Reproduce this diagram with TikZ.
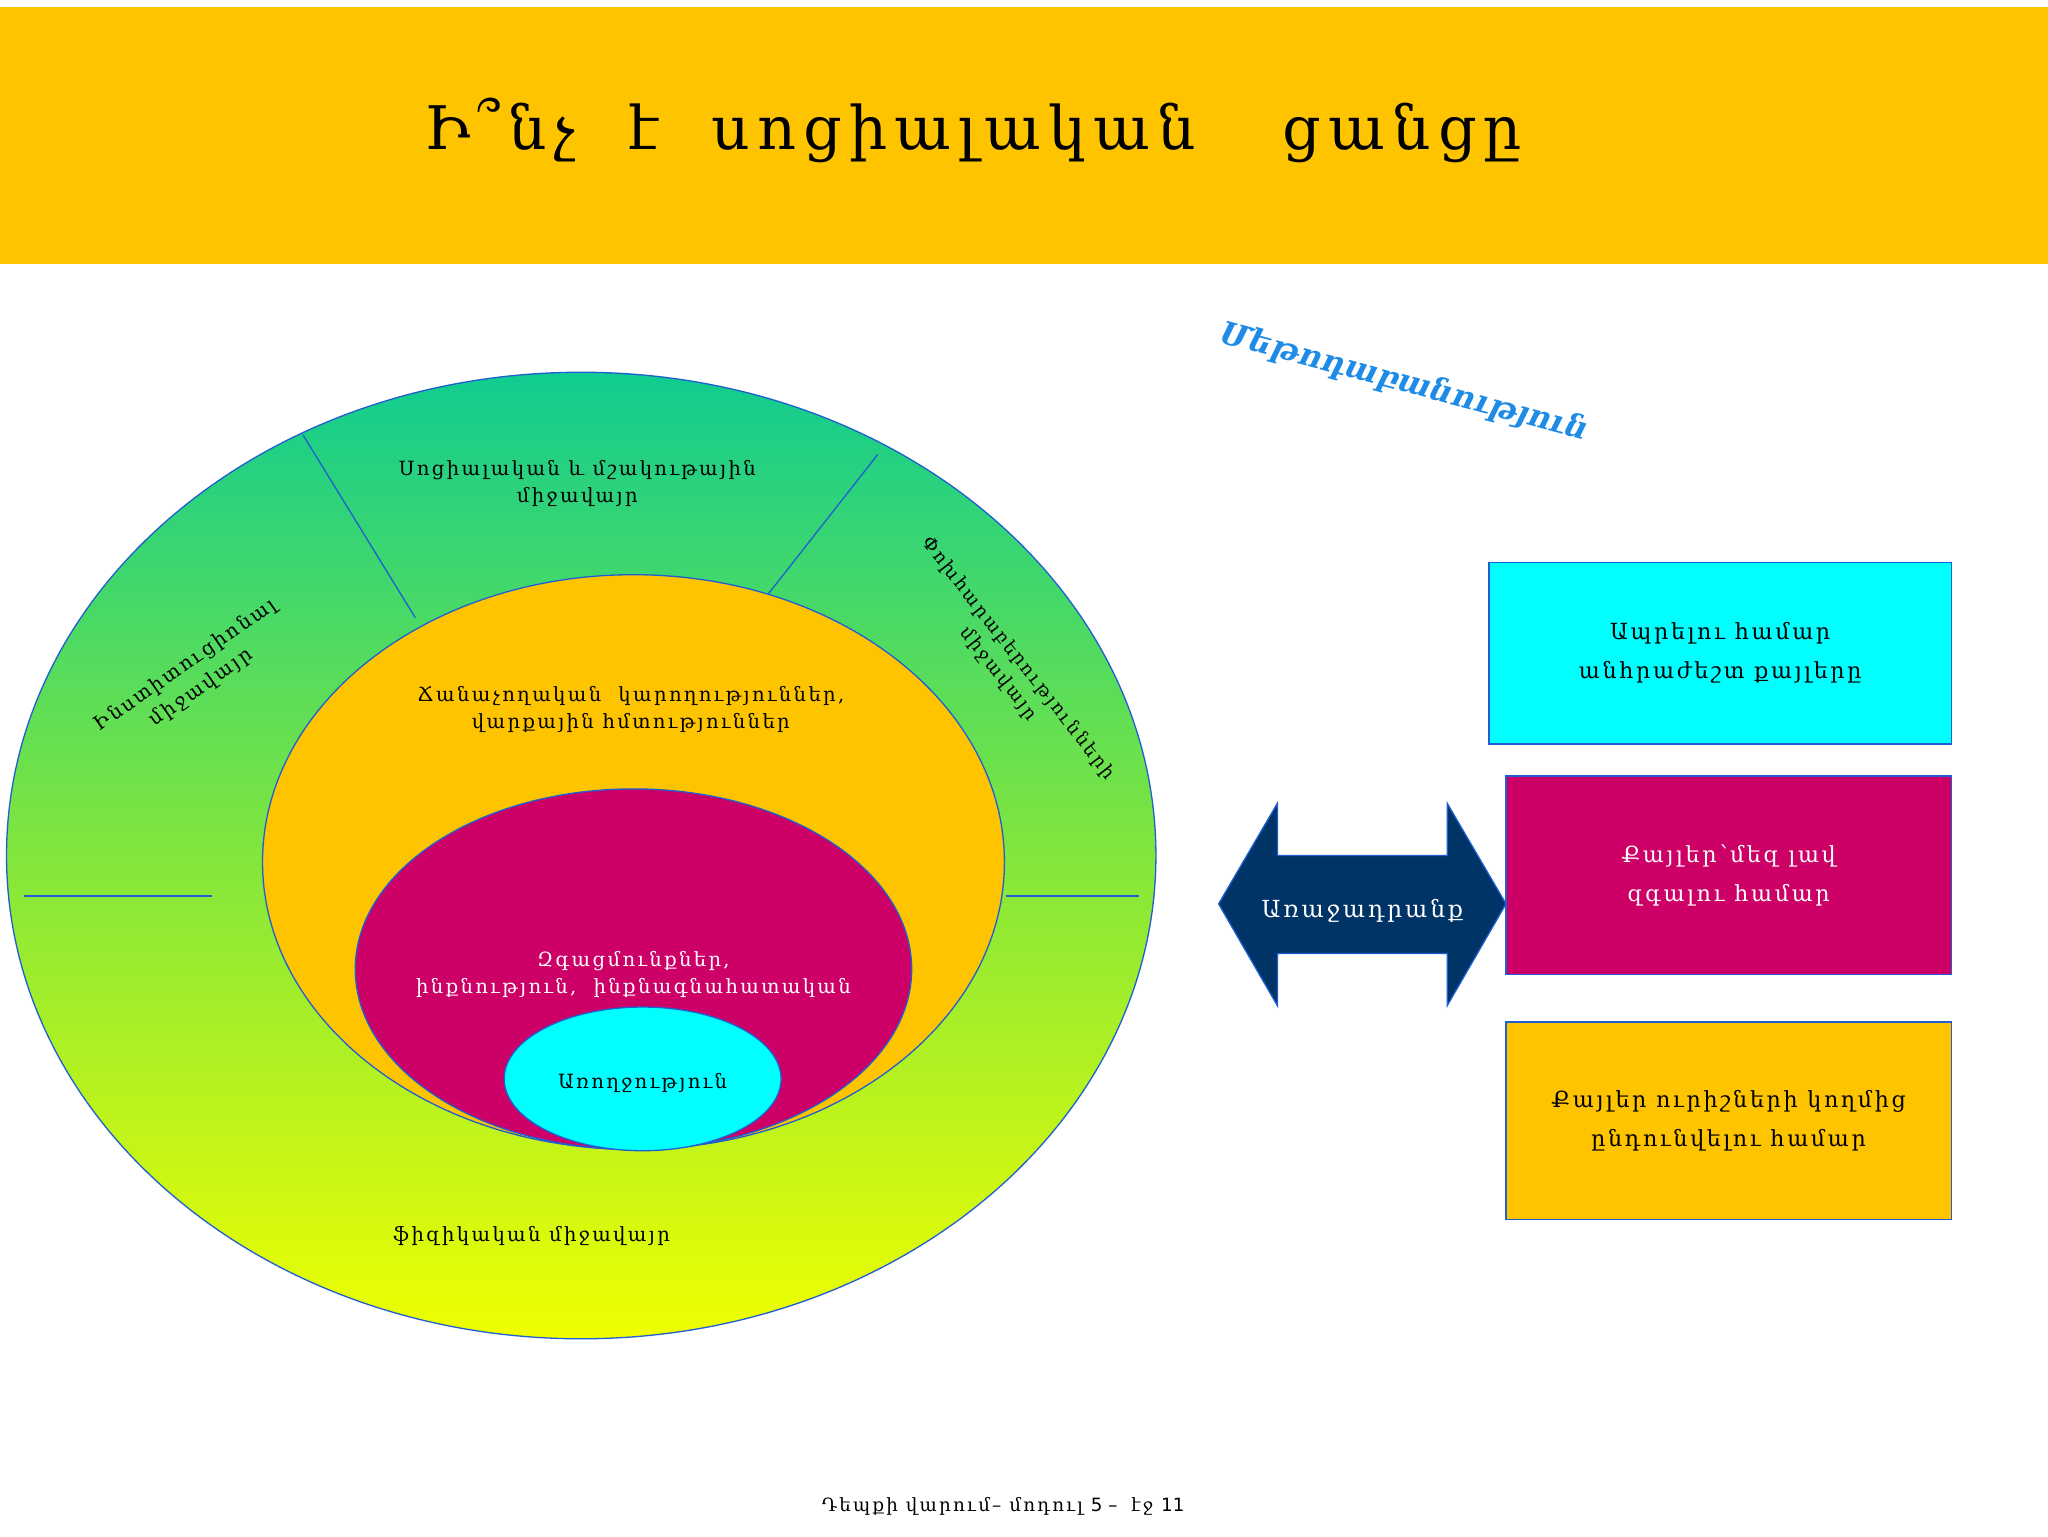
\documentclass[tikz,border=0pt]{standalone}
\usepackage{fontspec}
\setmainfont{DejaVu Serif}[LetterSpace=12]
\newfontfamily\sansf{DejaVu Sans}
\newfontfamily\tightf{DejaVu Serif}
\definecolor{gold}{HTML}{FFC400}
\definecolor{mag}{HTML}{CC0066}
\definecolor{cy}{HTML}{00FFFF}
\definecolor{navy}{HTML}{003366}
\definecolor{edge}{HTML}{1F5FD0}
\begin{document}
\begin{tikzpicture}[x=1pt,y=-1pt,
  lbl/.style={align=center,font=\fontsize{15}{21}\selectfont},
  blbl/.style={align=center,font=\fontsize{17}{30}\selectfont},
  ell/.style={draw=edge,line width=1pt},
  box/.style={draw=edge,line width=1.2pt,inner sep=0}]
\useasboundingbox (0,0) rectangle (1568,1176);
\fill[white] (0,0) rectangle (1568,1176);
\node[fill=gold,minimum width=1568pt,minimum height=197pt,inner sep=0,anchor=north west] (band) at (0,5) {};
\node[font=\fontsize{46}{52}\selectfont] (title) at (745,100) {Ի՞նչ \ է \ սոցիալական \quad ցանցը};
% ellipses
\shade[top color={rgb,255:red,16;green,204;blue,144},bottom color={rgb,255:red,240;green,255;blue,0},middle color={rgb,255:red,130;green,230;blue,60}] (445,655) ellipse [x radius=440,y radius=370];
\draw[ell] (445,655) ellipse [x radius=440,y radius=370];
\coordinate (l1a) at (232,333); \coordinate (l1b) at (318,473);
\coordinate (l2a) at (672,348); \coordinate (l2b) at (588,455);
\coordinate (l3a) at (18,686);  \coordinate (l3b) at (162,686);
\coordinate (l4a) at (770,686); \coordinate (l4b) at (872,686);
\draw[ell] (l1a) -- (l1b);
\draw[ell] (l2a) -- (l2b);
\draw[ell] (l3a) -- (l3b);
\draw[ell] (l4a) -- (l4b);
\filldraw[ell,fill=gold] (485,660) ellipse [x radius=284,y radius=220];
\filldraw[ell,fill=mag] (485,742) ellipse [x radius=213,y radius=138];
\filldraw[ell,fill=cy] (492,826) ellipse [x radius=106,y radius=55];
% ring texts
\node[lbl] (t1) at (442,370) {Սոցիալական և մշակութային\\միջավայր};
\node[lbl,rotate=35] (t2) at (148,518) {Ինստիտուցիոնալ\\միջավայր};
\node[lbl,rotate=-52,font=\fontsize{14}{19}\selectfont] (t3) at (772,510) {Փոխհարաբերությունների\\միջավայր};
\node[lbl] (t4) at (483,543) {Ճանաչողական \ կարողություններ,\\վարքային հմտություններ};
\node[lbl,text=white] (t5) at (485,746) {Զգացմունքներ,\\ինքնություն, \ ինքնագնահատական};
\node[lbl] (t6) at (492,829) {Առողջություն};
\node[lbl] (t7) at (407,946) {ֆիզիկական միջավայր};
\node[font=\tightf\fontsize{24}{28}\selectfont\bfseries\itshape,text={rgb,255:red,30;green,140;blue,230},rotate=-15] (met) at (1075,293) {Մեթոդաբանություն};
% arrow
\filldraw[fill=navy,draw=edge,line width=1pt] (933,692) -- (978,615) -- (978,655) -- (1108,655) -- (1108,615) -- (1153,692) -- (1108,770) -- (1108,730) -- (978,730) -- (978,770) -- cycle;
\node[text=white,font=\fontsize{18}{22}\selectfont] (task) at (1043,697) {Առաջադրանք};
% boxes
\node[box,fill=cy,minimum width=354pt,minimum height=139pt,blbl] (b1) at (1317,500) {Ապրելու համար\\անհրաժեշտ քայլերը};
\node[box,fill=mag,minimum width=341pt,minimum height=152pt,blbl,text=white] (b2) at (1323.5,670) {Քայլեր՝մեզ լավ\\զգալու համար};
\node[box,fill=gold,minimum width=341pt,minimum height=151pt,blbl] (b3) at (1323.5,858) {Քայլեր ուրիշների կողմից\\ընդունվելու համար};
\node[font=\fontsize{14}{16}\selectfont] (foot) at (768,1153) {Դեպքի վարում– մոդուլ {\sansf 5 – } էջ {\sansf 11}};
\end{tikzpicture}
\end{document}
